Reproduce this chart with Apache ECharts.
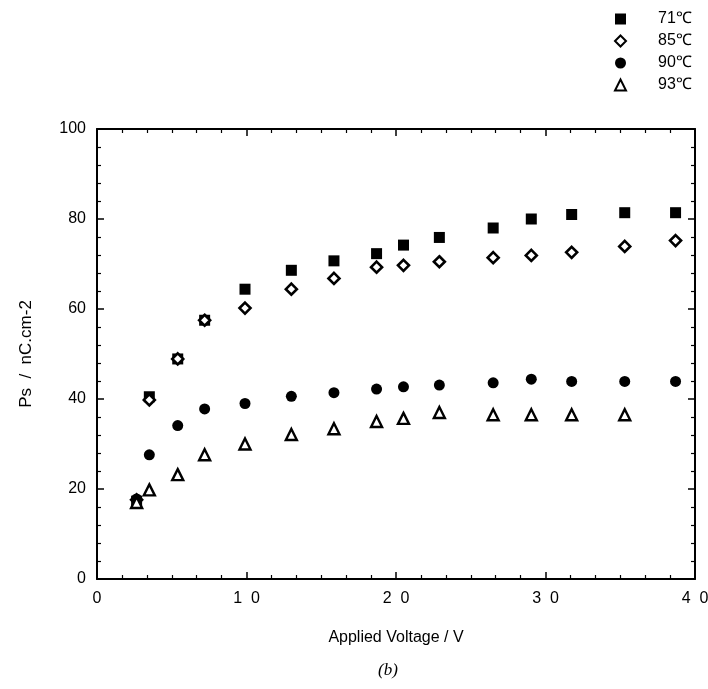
<!DOCTYPE html>
<html><head><meta charset="utf-8">
<script src="https://cdn.jsdelivr.net/npm/echarts@6/dist/echarts.min.js"></script>
<style>html,body{margin:0;padding:0;background:#fff}#c{width:708px;height:689px}</style>
</head><body><div id="c"></div>
<script>
const voltage = [2.65, 3.5, 5.4, 7.2, 9.9, 13.0, 15.85, 18.7, 20.5, 22.9, 26.5, 29.05, 31.75, 35.3, 38.7];
const ps71 = [17.3, 40.5, 48.9, 57.5, 64.4, 68.6, 70.7, 72.3, 74.2, 75.9, 78.0, 80.0, 81.0, 81.4, 81.4];
const ps85 = [17.6, 39.8, 48.9, 57.5, 60.2, 64.4, 66.8, 69.3, 69.7, 70.5, 71.4, 71.9, 72.6, 73.9, 75.2];
const ps90 = [17.8, 27.6, 34.1, 37.8, 39.0, 40.6, 41.4, 42.2, 42.7, 43.1, 43.6, 44.4, 43.9, 43.9, 43.9];
const ps93 = [17.0, 19.8, 23.2, 27.6, 30.0, 32.1, 33.4, 35.0, 35.7, 37.0, 36.5, 36.5, 36.5, 36.5, null];
const seriesNames = ['71\u2103', '85\u2103', '90\u2103', '93\u2103'];
const xTickLabels = {0: '0', 10: '1  0', 20: '2  0', 30: '3  0', 40: '4  0'};
const yTickLabels = {0: '0', 20: '20', 40: '40', 60: '60', 80: '80', 100: '100'};

function pairs(ys) { return voltage.map((x, i) => [x, ys[i]]).filter(p => p[1] != null); }
const font = 'Liberation Sans, Arial, sans-serif';
const axisLine = {show: true, onZero: false, lineStyle: {color: '#000', width: 2}};
const axisTick = {show: true, inside: true, length: 7, lineStyle: {color: '#000', width: 1.5}};
const minor = n => ({show: true, splitNumber: n, length: 4, lineStyle: {color: '#000', width: 1.2}});
const chart = echarts.init(document.getElementById('c'), null, {renderer: 'canvas'});
const styles = [
  {symbol: 'rect', symbolSize: 11, itemStyle: {color: '#000', opacity: 1}},
  {symbol: 'diamond', symbolSize: 11, itemStyle: {color: '#fff', borderColor: '#000', borderWidth: 2.6, opacity: 1}},
  {symbol: 'circle', symbolSize: 11, itemStyle: {color: '#000', opacity: 1}},
  {symbol: 'triangle', symbolSize: 11, itemStyle: {color: '#fff', borderColor: '#000', borderWidth: 2.4, opacity: 1}}
];
const datas = [ps71, ps85, ps90, ps93];
chart.setOption({
  animation: false,
  backgroundColor: '#fff',
  textStyle: {fontFamily: font},
  grid: {left: 97, right: 13, top: 129, bottom: 110, containLabel: false, outerBoundsMode: 'none'},
  legend: {
    orient: 'vertical', left: 609, top: 6, itemGap: 6, itemWidth: 11, itemHeight: 11,
    textStyle: {fontFamily: font, fontSize: 16, color: '#000', padding: [0, 0, 0, 27]},
    data: seriesNames
  },
  xAxis: [
    {
      type: 'value', position: 'bottom', min: 0, max: 40, interval: 10,
      axisLine: axisLine, axisTick: axisTick, minorTick: minor(6), splitLine: {show: false},
      axisLabel: {fontFamily: font, fontSize: 16, color: '#000', margin: 12, formatter: v => xTickLabels[v] ?? ''},
      name: 'Applied Voltage / V', nameLocation: 'middle', nameGap: 51,
      nameTextStyle: {fontFamily: font, fontSize: 16, color: '#000'}
    },
    {
      type: 'value', position: 'top', min: 0, max: 40, interval: 10,
      axisLine: axisLine, axisTick: axisTick, minorTick: minor(6),
      axisLabel: {show: false}, splitLine: {show: false}
    }
  ],
  yAxis: [
    {
      type: 'value', position: 'left', min: 0, max: 100, interval: 20,
      axisLine: axisLine, axisTick: axisTick, minorTick: minor(5), splitLine: {show: false},
      axisLabel: {fontFamily: font, fontSize: 16, color: '#000', margin: 11, formatter: v => yTickLabels[v] ?? ''},
      name: 'Ps  /  nC.cm-2', nameLocation: 'middle', nameGap: 62, nameRotate: 90,
      nameTextStyle: {fontFamily: font, fontSize: 17, color: '#000'}
    },
    {
      type: 'value', position: 'right', min: 0, max: 100, interval: 20,
      axisLine: axisLine, axisTick: axisTick, minorTick: minor(5),
      axisLabel: {show: false}, splitLine: {show: false}
    }
  ],
  graphic: [{
    type: 'text', left: 378, top: 662,
    style: {text: '(b)', fontFamily: 'Liberation Serif, Times New Roman, serif', fontStyle: 'italic', fontSize: 17, fill: '#000'}
  }],
  series: seriesNames.map((n, i) => Object.assign({
    name: n, type: 'scatter', xAxisIndex: 0, yAxisIndex: 0, data: pairs(datas[i])
  }, styles[i]))
});
</script></body></html>
